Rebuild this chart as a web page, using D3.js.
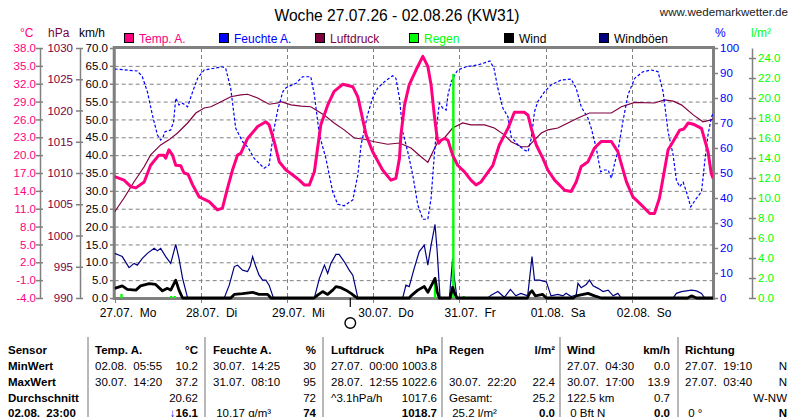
<!DOCTYPE html>
<html><head><meta charset="utf-8">
<script src="https://cdn.jsdelivr.net/npm/d3@7"></script>
<style>
body{margin:0;background:#fff;}
svg{display:block;font-family:"Liberation Sans",Arial,sans-serif;}
.pre{white-space:pre;}
</style></head><body>
<svg id="c" width="800" height="417"></svg>
<script>
// ---- DATA (time in hours from 27.07. 00:00) ----
const dayLabels = ["27.07.  Mo","28.07.  Di","29.07.  Mi","30.07.  Do","31.07.  Fr","01.08.  Sa","02.08.  So"];
const tempTicks = [-4,-1,2,5,8,11,14,17,20,23,26,29,32,35,38];
const hpaTicks = [990,995,1000,1005,1010,1015,1020,1025,1030];
const kmhTicks = [0,5,10,15,20,25,30,35,40,45,50,55,60,65,70];
const humTicks = [0,10,20,30,40,50,60,70,80,90,100];
const rainTicks = [0,2,4,6,8,10,12,14,16,18,20,22,24];

const tempData = [[0,16.4],[2.6,15.8],[4.5,14.7],[5.9,14.5],[8.2,15.5],[10,18.3],[12.3,20],[13.7,20],[14.2,19.5],[15.1,20.9],[16.1,20],[17,18.3],[18.4,18.2],[19.3,17],[20.4,16.8],[21.7,15],[23.5,13],[26.3,12.2],[28.6,10.8],[30,11.1],[31.4,14.4],[32.8,17.5],[34.2,20],[35.1,20.3],[37,22.8],[39.8,24.8],[42.1,25.6],[43,25.1],[44.4,22.3],[45.8,18.9],[47.7,17.5],[49.5,16.7],[51.4,15.8],[52.8,15],[54.2,15],[55.6,17.2],[56.5,21.2],[57.4,25.1],[59.3,28.4],[61.1,30.7],[63.5,31.9],[66.3,31.5],[67.7,29.8],[68.6,27.3],[70,23.4],[71.8,20.6],[74.6,17.5],[76.9,15.8],[78.3,16.1],[79.3,19.5],[79.7,23.4],[80.7,28.4],[82,31.8],[83.9,34.3],[85.8,36.6],[87.2,34.9],[88.1,31.8],[89,26.7],[89.8,22.8],[90.2,22],[90.9,22.5],[91.8,22.8],[92.8,22.5],[94.1,20],[95.5,18.3],[97.4,17.2],[99.2,15.8],[100.6,15],[102,15.5],[103.4,16.7],[105.3,18.3],[107.1,21.7],[109.5,24.5],[111.3,27.2],[114.1,27.2],[115.1,26.7],[116,24.5],[117.4,21.7],[119.2,19.5],[120.6,17.5],[122.5,15.8],[125.3,14.1],[127.1,13.9],[128.5,15.5],[129.9,18.1],[131.8,18.9],[133.6,21.2],[135.5,22.3],[138.3,22.3],[140.1,20.6],[142.5,15.5],[144.3,13],[146.7,11.6],[149,10.2],[150.3,10.2],[151.7,12.8],[154.1,20.9],[155.5,22.3],[157.3,24.2],[158.5,24.4],[159.7,25.4],[161.1,25.2],[163.4,24.5],[165.2,20.6],[166.1,17],[166.6,16.1]];

const humData = [[0,91.6],[6.3,90.8],[7.7,88.5],[9.1,82.5],[10.5,73.2],[11.9,65.2],[12.8,63.2],[13.5,64.5],[14,66.5],[15.6,67.2],[16.4,70.5],[17,79.9],[17.9,77.2],[18.9,77.9],[20.3,76.5],[21.7,82.5],[23.1,87.9],[24.9,91.2],[27.7,91.9],[30,92.5],[30.9,91.9],[32.3,83.9],[33.7,67.9],[35.6,62.5],[37,60.5],[38.8,55.9],[41.6,51.9],[43,53.2],[43.5,58.5],[44.4,67.9],[45.4,75.2],[46.8,82.5],[47.7,84.1],[50.5,85.9],[52.3,88.5],[54.6,88.5],[55.6,81.2],[57,65.2],[58.8,55.9],[60.7,42.5],[62.1,37.5],[63.9,36.9],[66.3,39.2],[67.7,49.2],[68.6,61.2],[70.4,73.2],[71.8,79.9],[73.2,83.9],[75.1,86.5],[77.4,88.9],[78.3,87.9],[79.3,79.9],[80.2,66.5],[81.6,58.5],[83,49.2],[84.4,37.2],[85.8,31.5],[87.2,31.5],[88.1,39.9],[89,57.2],[89.8,70.5],[90.4,77.9],[91.4,75.9],[92.3,75.2],[92.8,81.2],[93.7,86.5],[95.5,91.2],[97.9,92.5],[101.1,93.2],[104.5,94.8],[105.6,91.9],[106.7,83.9],[108.1,75.9],[109.5,72.5],[110.4,64.5],[112.3,61.2],[114.1,59.2],[115.1,58.5],[116,63.9],[116.9,74.5],[117.8,78.5],[119.7,82.5],[121.5,85.2],[124.3,87.2],[127.1,87.6],[128.5,83.9],[129.9,76.5],[131.8,71.9],[132.7,67.9],[134.1,59.9],[135.3,50.5],[136.4,51.2],[137.4,51.2],[138.3,47.9],[139.2,53.9],[140.1,58.5],[141.5,70.5],[142.9,81.2],[144.8,87.9],[147.1,90.5],[149.4,91.2],[151.3,90.5],[152.7,82.5],[154.1,66.5],[155.5,57.2],[156.4,47.2],[157.3,44.5],[158.3,46.3],[159.2,42.5],[160.4,36.5],[162,39.9],[163.4,42.5],[164.3,54.5],[165.2,65.2],[166.1,71.9],[166.6,74]];

const pressData = [[0,1003.8],[2.6,1006],[5.4,1008.6],[8.2,1011],[10,1012.9],[12.8,1014.5],[15.1,1015.3],[17.5,1016.4],[20.3,1018],[22.6,1019.6],[24.9,1020.4],[26.8,1020.6],[29.6,1021.4],[32.3,1022.2],[35.1,1022.5],[37,1022.6],[39.8,1022],[43,1021],[45.4,1021.2],[46.3,1021.4],[49.1,1020.9],[51.9,1020.7],[54.6,1020.6],[58.3,1019.3],[61.1,1018],[63.9,1016.9],[66.7,1015.6],[69.5,1015.4],[72.3,1015],[76,1014.6],[79.3,1014.8],[82.5,1014],[85.3,1012.6],[87.2,1011.7],[88.6,1013.4],[90,1015],[91.8,1015.6],[94.1,1017.2],[96.9,1018],[99.2,1017.7],[103,1017.7],[105.7,1017.2],[108.5,1016.1],[110.4,1015],[113.2,1014.2],[115.1,1014.2],[116.9,1015.3],[118.8,1016.4],[120.6,1016.9],[123.4,1017.2],[126.2,1018],[129,1018.8],[132.2,1019.6],[134.6,1019.6],[138.3,1019.6],[141.1,1020.6],[144.8,1021.3],[150.3,1021.2],[153.1,1021.7],[155.5,1021.5],[157.8,1020.9],[161.1,1019.3],[163.8,1018.2],[166.1,1018.5],[166.6,1018.7]];

const gustData = [[0,12.5],[2.1,11.6],[4,8.5],[5.4,9.7],[6.3,9.2],[7.7,11.1],[9.1,12.5],[11,13.9],[11.9,13.2],[12.8,13.9],[14.2,11.6],[15.6,9.7],[17,15],[17.9,11.1],[18.9,5.5],[20.3,0],[30.5,0],[31.9,3.6],[33.3,8.8],[34.2,9.2],[35.6,7.8],[37,7.4],[37.7,8.8],[38.4,11.6],[39.3,8.8],[40.2,6.4],[41.2,5],[42.1,5],[43,3.6],[44.2,0],[55.6,0],[57,5.5],[58.4,9.2],[59.3,6.9],[60.2,9.7],[61.6,12.2],[62.5,12.2],[63.9,10.2],[65.3,7.8],[66.3,6.4],[67.7,0],[80.2,0],[81.1,3.6],[82,3.2],[83.4,8.3],[84.8,13],[86.2,14.8],[87.2,9.2],[88.1,14.8],[89.2,20.6],[89.8,13],[90.6,0],[93.2,0],[94.1,11.1],[94.6,5.5],[95.3,0],[103.9,0],[104.8,0.8],[106.7,1.8],[108.5,0.2],[110.2,2.4],[111.7,0.6],[113.1,1.3],[115,0.6],[116.2,11.6],[116.9,5],[118.3,5],[120.2,4.5],[121.5,0.6],[123.4,1],[124.8,0.6],[125.7,1.3],[127.1,0.4],[128.5,0.8],[129,4.1],[129.9,2.9],[131.3,3.8],[132.2,5],[133.2,3.4],[134.6,2.7],[136,1.8],[137.4,2.2],[138.8,0.6],[140.1,1.3],[141.1,0],[155.5,0],[156.4,1.3],[157.8,1.8],[160.6,2.2],[162,2],[163.4,1.3],[164.3,0],[166.6,0]];

const windData = [[0,2.7],[2.1,3.4],[3.5,2.4],[5.9,2.2],[7.2,3.4],[9.6,4],[11.4,3.8],[13.3,2],[14.7,2.7],[15.6,2.2],[17,5],[17.9,2.2],[18.9,0],[32.3,0],[33.3,1],[35.6,1.2],[38.4,1.6],[40.2,1],[42.6,1],[43.5,0],[55.5,0],[56.5,0.8],[57.9,1.8],[59.3,1],[60.7,2.2],[61.6,3.2],[63,2.9],[64.4,2.2],[65.8,1.3],[66.7,0.6],[67.5,0],[82,0],[82.5,0.6],[84.4,2.2],[86.2,3.2],[87.2,1.6],[89.2,5.5],[89.8,1.8],[90.4,0],[93.4,0],[94.1,3],[94.6,1.5],[95.3,0],[114.9,0],[115.5,1.3],[116.2,2],[117.1,0.6],[119.2,1],[120.2,0],[127.7,0],[128.5,0.6],[131.8,1.3],[133.6,0.6],[135.5,0],[159.5,0],[160.6,0.6],[162,0],[166.6,0]];

const rainData = [[1.9,0.4],[15.7,0.2],[16.7,0.2],[89.2,1.8],[94.3,22.4],[97.2,0.2]];

const tableRows = [
  ["Sensor","Temp. A.","°C","Feuchte A.","%","Luftdruck","hPa","Regen","l/m²","Wind","km/h","Richtung",""],
  ["MinWert","02.08.  05:55","10.2","30.07.  14:25","30","27.07.  00:00","1003.8","","","27.07.  04:30","0.0","27.07.  19:10","N"],
  ["MaxWert","30.07.  14:20","37.2","31.07.  08:10","95","28.07.  12:55","1022.6","30.07.  22:20","22.4","30.07.  17:00","13.9","27.07.  03:40","N"],
  ["Durchschnitt","","20.62","","72","^3.1hPa/h","1017.6","Gesamt:","25.2","122.5 km","0.7","","W-NW"],
  ["02.08.  23:00","","16.1"," 10.17 g/m³","74","","1018.7"," 25.2 l/m²","0.0"," 0 Bft N","0.0"," 0 °","N"]
];

// ---- LAYOUT ----
const svg = d3.select("#c");
const L = 114.7, R = 713, T = 48, B = 298;
const x = d3.scaleLinear().domain([0,166.6]).range([L,R]);
const yKmh = d3.scaleLinear().domain([0,70]).range([B,T]);
const yTemp = d3.scaleLinear().domain([-4,38]).range([B,T]);
const yHpa = d3.scaleLinear().domain([990,1030]).range([B,T]);
const yHum = d3.scaleLinear().domain([0,100]).range([B,T]);
const yRain = d3.scaleLinear().domain([0,25]).range([B,T]);

const C = {temp:"#ff0080", hum:"#0000ff", press:"#800040", rain:"#00ff00", wind:"#000000", gust:"#000080", grid:"#808080"};
const f1 = d => d.toFixed(1);

svg.append("rect").attr("width",800).attr("height",417).attr("fill","#fff");

// title
svg.append("text").attr("x",397).attr("y",20.5).attr("text-anchor","middle").attr("font-size",15.6).attr("fill","#000")
  .text("Woche 27.07.26 - 02.08.26 (KW31)");
svg.append("text").attr("x",788).attr("y",16).attr("text-anchor","end").attr("font-size",11.6).attr("fill","#202020")
  .text("www.wedemarkwetter.de");

// legend
const legend = [["Temp. A.",C.temp,C.temp,124],["Feuchte A.",C.hum,C.hum,219],["Luftdruck",C.press,C.press,315],["Regen",C.rain,C.rain,409],["Wind",C.wind,"#000",504],["Windböen",C.gust,"#000",599]];
legend.forEach(d=>{
  svg.append("rect").attr("x",d[3]+0.5).attr("y",33.5).attr("width",9).attr("height",9).attr("fill",d[1]).attr("stroke","#000").attr("stroke-width",1);
  svg.append("text").attr("x",d[3]+15).attr("y",42.5).attr("font-size",12).attr("fill",d[2]).text(d[0]);
});

// units
const units = [["°C",20,C.temp],["hPa",48,C.press],["km/h",79,"#000"],["%",715,C.hum],["l/m²",751,C.rain]];
units.forEach(u=>svg.append("text").attr("x",u[1]).attr("y",37).attr("font-size",12).attr("fill",u[2]).text(u[0]));

// grid
const g = svg.append("g");
g.selectAll("line.h").data(kmhTicks.slice(1,-1)).join("line")
  .attr("x1",L).attr("x2",R).attr("y1",d=>yKmh(d)+0.5).attr("y2",d=>yKmh(d)+0.5)
  .attr("stroke",C.grid).attr("stroke-dasharray","4,3");
g.selectAll("line.v").data(dayLabels.slice(1)).join("line")
  .attr("x1",(d,i)=>Math.round(x((i+1)*24))+0.5).attr("x2",(d,i)=>Math.round(x((i+1)*24))+0.5)
  .attr("y1",T).attr("y2",B).attr("stroke",C.grid).attr("stroke-dasharray","4,3");
g.selectAll("line.vt").data(dayLabels).join("line")
  .attr("x1",(d,i)=>Math.round(x(i*24))+0.5).attr("x2",(d,i)=>Math.round(x(i*24))+0.5)
  .attr("y1",B).attr("y2",B+5).attr("stroke",C.grid);
// day labels
svg.selectAll("text.day").data(dayLabels).join("text").attr("class","pre")
  .attr("x",(d,i)=>x(i*24)-15).attr("y",317).attr("font-size",12).attr("fill","#000").text(d=>d);

// axes helper
function styleAxis(sel, color, x1){
  sel.select(".domain").attr("stroke","#808080").attr("stroke-width",1.5);
  sel.selectAll(".tick line").attr("stroke","#808080").attr("stroke-width",1.5);
  if(x1!==undefined) sel.selectAll(".tick line").attr("x1",x1);
  sel.selectAll(".tick text").attr("fill",color).attr("font-size",11.5).attr("font-family","Liberation Sans, Arial, sans-serif");
}
const aT = svg.append("g").attr("transform","translate(40,0)")
  .call(d3.axisLeft(yTemp).tickValues(tempTicks).tickFormat(f1).tickSizeInner(4).tickSizeOuter(0).tickPadding(0));
styleAxis(aT, C.temp, 3);
const aP = svg.append("g").attr("transform","translate(80,0)")
  .call(d3.axisLeft(yHpa).tickValues(hpaTicks).tickFormat(d=>String(d)).tickSizeInner(4).tickSizeOuter(0).tickPadding(3));
styleAxis(aP, C.press, 3);
const aK = svg.append("g").attr("transform","translate(114,0)")
  .call(d3.axisLeft(yKmh).tickValues(kmhTicks).tickFormat(f1).tickSizeInner(4).tickSizeOuter(0).tickPadding(2));
styleAxis(aK, "#000");
const aH = svg.append("g").attr("transform","translate(713,0)")
  .call(d3.axisRight(yHum).tickValues(humTicks).tickFormat(d=>String(d)).tickSizeInner(5).tickSizeOuter(0).tickPadding(2));
styleAxis(aH, C.hum);
const aR = svg.append("g").attr("transform","translate(752,0)")
  .call(d3.axisRight(yRain).tickValues(rainTicks).tickFormat(f1).tickSizeInner(4).tickSizeOuter(0).tickPadding(2));
styleAxis(aR, C.rain, -3);

// plot border
svg.append("rect").attr("x",L-0.5).attr("y",T-0.5).attr("width",R-L+1).attr("height",B-T+1)
  .attr("fill","none").attr("stroke","#808080").attr("stroke-width",3);

// series
const line = (ys)=>d3.line().x(d=>x(d[0])).y(d=>ys(d[1]));
svg.append("clipPath").attr("id","pc").append("rect").attr("x",L).attr("y",T-2).attr("width",R-L).attr("height",B-T+4);
const s = svg.append("g").attr("clip-path","url(#pc)");
s.append("path").datum(gustData).attr("d",line(yKmh)).attr("fill","none").attr("stroke",C.gust).attr("stroke-width",1.2);
s.append("path").datum(pressData).attr("d",line(yHpa)).attr("fill","none").attr("stroke",C.press).attr("stroke-width",1.2);
s.append("path").datum(humData).attr("d",line(yHum)).attr("fill","none").attr("stroke",C.hum).attr("stroke-width",1.2).attr("stroke-dasharray","3,2");
s.selectAll("rect.rain").data(rainData).join("rect")
  .attr("x",d=>x(d[0])-1.2).attr("width",2.4).attr("y",d=>yRain(d[1])).attr("height",d=>B-yRain(d[1])).attr("fill",C.rain);
s.append("path").datum(windData).attr("d",line(yKmh)).attr("fill","none").attr("stroke",C.wind).attr("stroke-width",2.8).attr("stroke-linejoin","round");
s.append("path").datum(tempData).attr("d",line(yTemp)).attr("fill","none").attr("stroke",C.temp).attr("stroke-width",3).attr("stroke-linejoin","round");

// moon marker
const moonH = 65.6;
svg.append("line").attr("x1",x(moonH)).attr("x2",x(moonH)).attr("y1",B).attr("y2",307).attr("stroke","#000").attr("stroke-width",1.2);
svg.append("circle").attr("cx",x(moonH)).attr("cy",323).attr("r",5.3).attr("fill","#fff").attr("stroke","#000").attr("stroke-width",1.4);

// table
const seps = [88,205,323,442,560,678];
seps.forEach(sx=>svg.append("line").attr("x1",sx).attr("x2",sx).attr("y1",337).attr("y2",417).attr("stroke","#a0a0a0").attr("stroke-width",1.5));
const colLeft = [8,95,213,331,449,567,685];
const colRight = [null,198,316,437,555,670,787];
const rowY = [354,370,386,402,416.5];
tableRows.forEach((row,ri)=>{
  const fw = (ri===0 || ri===4) ? "bold" : "normal";
  svg.append("text").attr("class","pre").attr("x",colLeft[0]).attr("y",rowY[ri]).attr("font-size",11.5).attr("font-weight","bold").text(row[0]);
  for(let c=1;c<=6;c++){
    const lt = row[2*c-1], rt = row[2*c];
    if(lt) svg.append("text").attr("class","pre").attr("x",colLeft[c]).attr("y",rowY[ri]).attr("font-size",11.5)
      .attr("font-weight", ri===0 ? "bold":"normal").text(lt);
    if(rt){
      const t = svg.append("text").attr("class","pre").attr("x",colRight[c]).attr("y",rowY[ri]).attr("text-anchor","end")
        .attr("font-size",11.5).attr("font-weight",fw);
      if(ri===4 && c===1){ t.append("tspan").attr("fill","#0000ff").text("↓"); }
      t.append("tspan").text(rt);
    }
  }
});
</script>
</body></html>
